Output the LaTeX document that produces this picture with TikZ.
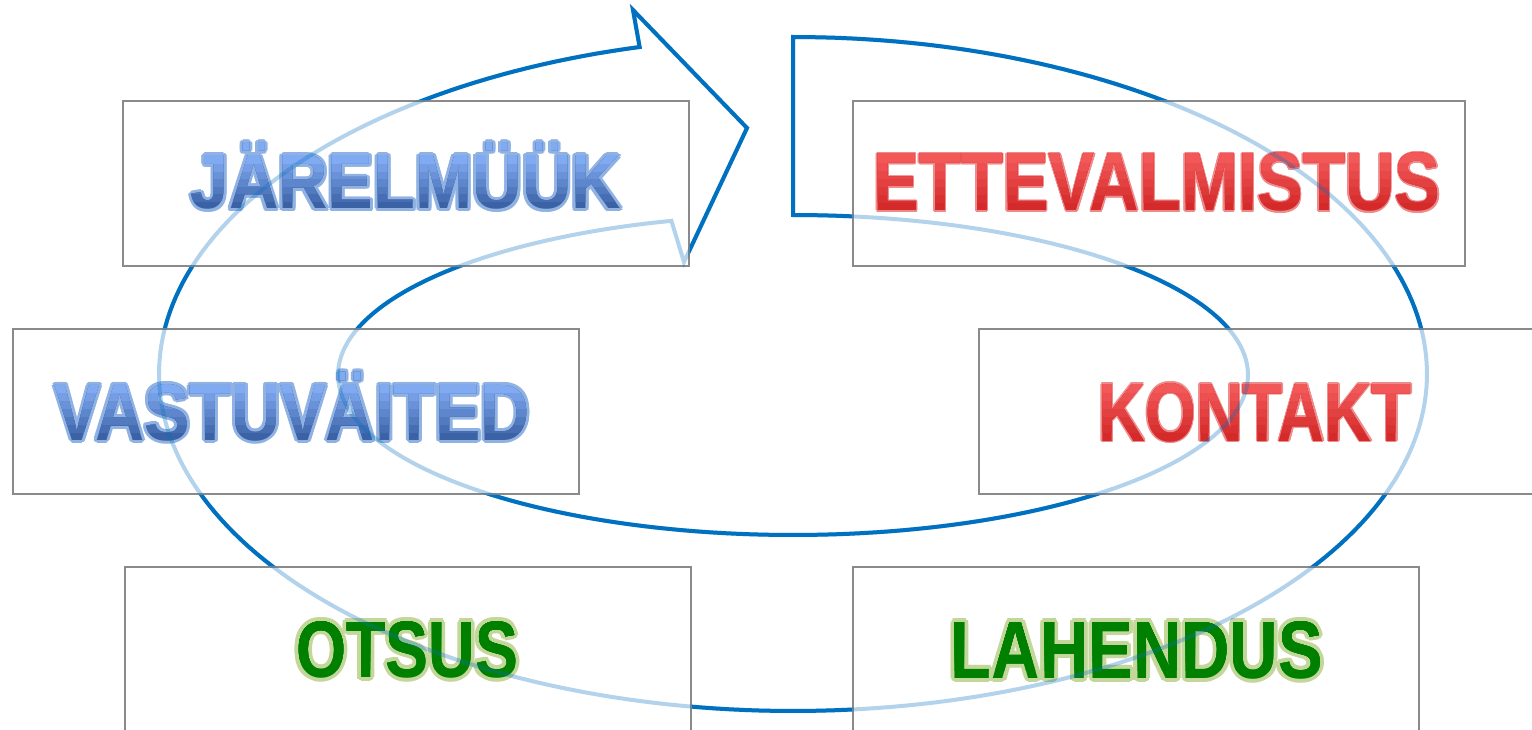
\documentclass[tikz,border=0pt]{standalone}
\usepackage{fontspec}
\setmainfont{Liberation Sans}
\usepackage{graphicx}
\definecolor{arrowblue}{HTML}{0070C0}
\definecolor{boxgray}{HTML}{8A8A8A}
\definecolor{outblue}{HTML}{8FB2E2}
\definecolor{outred}{HTML}{EE8A8A}
\definecolor{outgreen}{HTML}{C4D79B}
\definecolor{gtop}{HTML}{80AAF2}
\definecolor{gbot}{HTML}{3C62A6}
\newsavebox\fbA
\newsavebox\fbB
\newcommand\fitbox[3]{%
  \sbox\fbA{#3}\sbox\fbB{H}%
  \resizebox{#1pt}{\dimexpr #2pt*\ht\fbA/\ht\fbB\relax}{\usebox\fbA}}
\newcommand\gtext[8]{%
  \foreach \a in {0,30,...,330}{\node[txt,text=#6] at ({#2+#7*cos(\a)},{#3+#7*sin(\a)}) {\fitbox{#4}{#5}{#8}};}
  \node[txt,text=gbot] (#1) at (#2,#3) {\fitbox{#4}{#5}{#8}};
  \foreach \k in {1,...,6}{%
    \pgfmathtruncatemacro\pc{\k*100/6}%
    \colorlet{gc}{gtop!\pc!gbot}%
    \begin{scope}
      \clip ({#2-700},{#3-300}) rectangle ({#2+700},{#3-\k*#5/7});
      \node[txt,text=gc] at (#2,#3) {\fitbox{#4}{#5}{#8}};
    \end{scope}}%
}
\newcommand\arrowshape[1]{%
  \draw[#1] plot[domain=-90:256,samples=260] ({793+634*cos(\x)},{374+337*sin(\x)})
    -- (633,10) -- (747,128) -- (684,262)
    -- plot[domain=-254.5:90,samples=200] ({793+455*cos(-\x)},{375+160*sin(-\x)})
    -- cycle;}
\tikzset{
  txt/.style={inner sep=0pt, anchor=base, font=\bfseries\fontsize{60}{72}\selectfont},
  box/.style={draw=boxgray, line width=1.8pt, fill=white, anchor=north west, inner sep=0pt},
  arrowline/.style={draw=arrowblue, line width=4pt, line join=miter}
}
\begin{document}
\begin{tikzpicture}[x=1pt,y=-1pt]
\useasboundingbox (0,0) rectangle (1532,730);
\clip (0,0) rectangle (1532,730);
\arrowshape{arrowline}
% boxes
\node[box, minimum width=566, minimum height=165] (b1) at (122,100) {};
\node[box, minimum width=612, minimum height=165] (b2) at (852,100) {};
\node[box, minimum width=566, minimum height=165] (b3) at (12,328) {};
\node[box, minimum width=566, minimum height=165] (b4) at (978,328) {};
\node[box, minimum width=566, minimum height=165] (b5) at (124,566) {};
\node[box, minimum width=566, minimum height=165] (b6) at (852,566) {};
% texts
\definecolor{gtop}{HTML}{80AAF2}\definecolor{gbot}{HTML}{3C62A6}
\gtext{t1}{406}{209}{430}{53}{outblue}{3}{JÄRELMÜÜK}
\gtext{t3}{292.5}{440}{475}{55}{outblue}{3}{VASTUVÄITED}
\definecolor{gtop}{HTML}{F25858}\definecolor{gbot}{HTML}{D42A2A}
\gtext{t2}{1157}{211}{567}{57}{outred}{1.5}{ETTEVALMISTUS}
\gtext{t4}{1255}{441}{313}{57}{outred}{1.5}{KONTAKT}
\definecolor{gtop}{HTML}{008000}\definecolor{gbot}{HTML}{008000}
\gtext{t5}{407}{677}{222}{55}{outgreen}{4}{OTSUS}
\gtext{t6}{1137}{678}{372}{56}{outgreen}{4}{LAHENDUS}
% translucent overlay of the arrow
\arrowshape{arrowline, draw opacity=0.3}
\end{tikzpicture}
\end{document}
